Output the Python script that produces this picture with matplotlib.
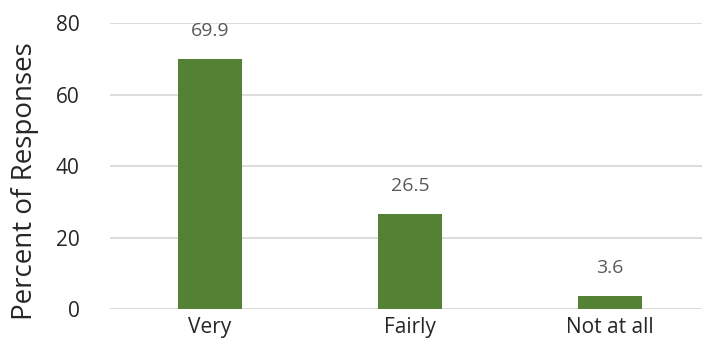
import matplotlib.pyplot as plt

categories = ["Very", "Fairly", "Not at all"]
values = [69.9, 26.5, 3.6]
yticks = [0, 20, 40, 60, 80]

plt.rcParams['font.family'] = ['Open Sans', 'DejaVu Sans']

fig = plt.figure(figsize=(7.02, 3.63), dpi=100)
ax = fig.add_axes([110 / 702, 54 / 363, 600 / 702, 286 / 363])

x = range(len(categories))
ax.bar(x, values, width=0.32, color="#548235", zorder=3)
for i, v in enumerate(values):
    ax.annotate(f"{v:.1f}", (i, v), xytext=(0, 14), textcoords="offset points",
                ha="center", va="bottom", fontsize=14, color="#595959")

ax.set_xlim(-0.5, 2.5)
ax.set_ylim(0, 80)
ax.set_yticks(yticks)
ax.set_xticks(list(x))
ax.set_xticklabels(categories)
ax.yaxis.grid(True, color="#d9d9d9", linewidth=1.3, zorder=0)
ax.set_axisbelow(True)
for s in ax.spines.values():
    s.set_visible(False)
ax.tick_params(axis="both", length=0, labelsize=15, colors="#262626")
ax.tick_params(axis="y", pad=22)
ax.tick_params(axis="x", pad=6)
fig.text(25 / 702, 0.5, "Percent of Responses", rotation=90, ha="center", va="center",
         fontsize=20, color="#262626")

fig.savefig("out.png", dpi=100)
